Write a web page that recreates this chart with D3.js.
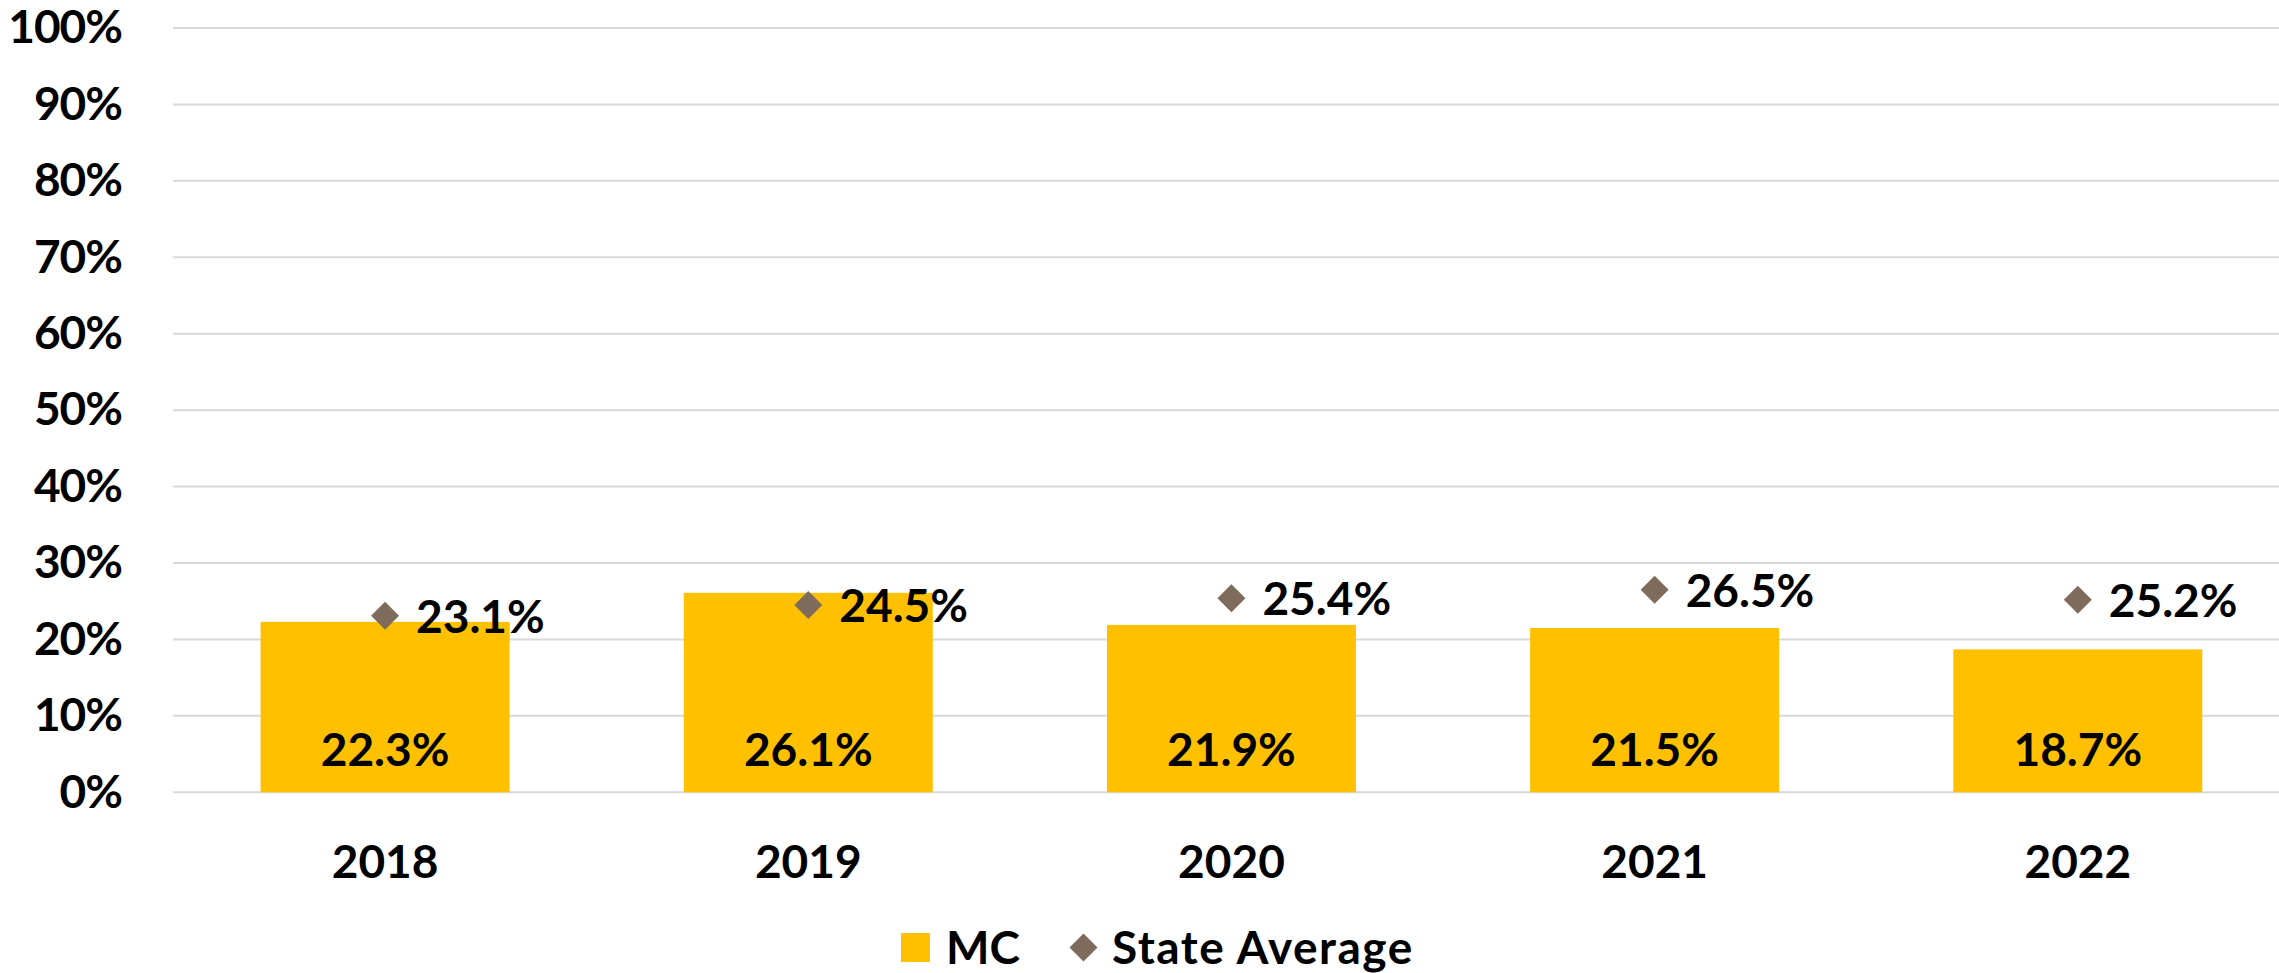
<!DOCTYPE html>
<html>
<head>
<meta charset="utf-8">
<script src="https://cdn.jsdelivr.net/npm/d3@7"></script>
<style>
  html, body { margin: 0; padding: 0; background: #ffffff; }
  svg { display: block; }
  text { font-family: Lato, "Open Sans", sans-serif; font-weight: 700; fill: #000; }
</style>
</head>
<body>
<svg id="chart" width="2279" height="973"></svg>
<script>
const categories = ['2018', '2019', '2020', '2021', '2022'];
const mcValues = [22.3, 26.1, 21.9, 21.5, 18.7];
const stateAverage = [23.1, 24.5, 25.4, 26.5, 25.2];
const yTickValues = [0, 10, 20, 30, 40, 50, 60, 70, 80, 90, 100];
const seriesNames = ['MC', 'State Average'];

const W = 2279, H = 973;
const fontSize = 46;
const barColor = '#FFC000';
const markerColor = '#7F6B5B';
const gridColor = '#D9D9D9';

const svg = d3.select('#chart');

const x = d3.scaleBand()
  .domain(categories)
  .range([173.5, 2289.4])
  .paddingInner(0.4116)
  .paddingOuter(0.2058);

const y = d3.scaleLinear().domain([0, 100]).range([792.3, 28]);

// gridlines
svg.append('g').selectAll('line')
  .data(yTickValues)
  .join('line')
  .attr('x1', 173).attr('x2', W)
  .attr('y1', d => y(d)).attr('y2', d => y(d))
  .attr('stroke', gridColor).attr('stroke-width', 2);

// y axis labels
const yAxis = svg.append('g')
  .attr('transform', 'translate(173,0)')
  .call(d3.axisLeft(y).tickValues(yTickValues).tickFormat(d => d + '%').tickSize(0).tickPadding(51));
yAxis.select('.domain').remove();
yAxis.selectAll('text')
  .attr('font-size', fontSize).attr('font-family', 'Lato, sans-serif')
  .attr('font-weight', 700).attr('fill', '#000')
  .attr('letter-spacing', -1);

// x axis labels
const xAxis = svg.append('g')
  .attr('transform', `translate(0,${y(0)})`)
  .call(d3.axisBottom(x).tickSize(0).tickPadding(52.7));
xAxis.select('.domain').remove();
xAxis.selectAll('text')
  .attr('font-size', fontSize).attr('font-family', 'Lato, sans-serif')
  .attr('font-weight', 700).attr('fill', '#000');

// bars
const data = categories.map((c, i) => ({ cat: c, mc: mcValues[i], st: stateAverage[i] }));

svg.append('g').selectAll('rect')
  .data(data)
  .join('rect')
  .attr('x', d => x(d.cat))
  .attr('width', x.bandwidth())
  .attr('y', d => y(d.mc))
  .attr('height', d => y(0) - y(d.mc))
  .attr('fill', barColor);

// bar labels (inside base)
svg.append('g').selectAll('text')
  .data(data)
  .join('text')
  .attr('x', d => x(d.cat) + x.bandwidth() / 2)
  .attr('y', y(0) - 26)
  .attr('text-anchor', 'middle')
  .attr('font-size', fontSize)
  .text(d => d.mc.toFixed(1) + '%');

// markers
const diamond = d3.symbol().type(d3.symbolSquare).size(392);
svg.append('g').selectAll('path')
  .data(data)
  .join('path')
  .attr('d', diamond)
  .attr('transform', d => `translate(${x(d.cat) + x.bandwidth() / 2},${y(d.st)}) rotate(45)`)
  .attr('fill', markerColor);

// marker labels (right)
svg.append('g').selectAll('text')
  .data(data)
  .join('text')
  .attr('x', d => x(d.cat) + x.bandwidth() / 2 + 31)
  .attr('y', d => y(d.st) + 17)
  .attr('font-size', fontSize)
  .text(d => d.st.toFixed(1) + '%');

// legend
const legend = svg.append('g');
legend.append('rect')
  .attr('x', 901).attr('y', 933).attr('width', 29).attr('height', 29)
  .attr('fill', barColor);
legend.append('text')
  .attr('x', 946).attr('y', 964)
  .attr('font-size', fontSize)
  .text(seriesNames[0]);
legend.append('path')
  .attr('d', diamond)
  .attr('transform', 'translate(1083.5,947.5) rotate(45)')
  .attr('fill', markerColor);
legend.append('text')
  .attr('x', 1112).attr('y', 964)
  .attr('font-size', fontSize)
  .attr('letter-spacing', 1.5)
  .text(seriesNames[1]);
</script>
</body>
</html>
